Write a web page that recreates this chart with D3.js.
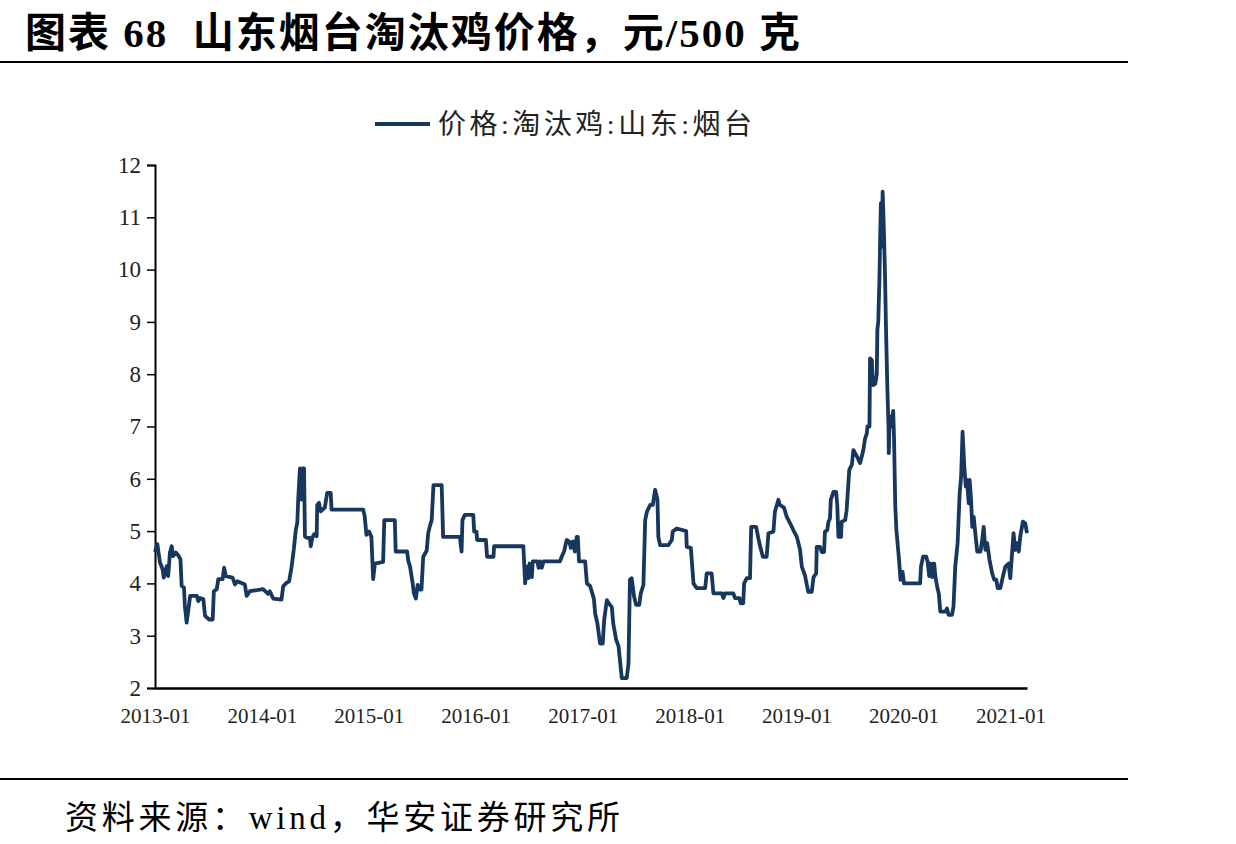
<!DOCTYPE html>
<html><head><meta charset="utf-8">
<script src="https://cdn.jsdelivr.net/npm/d3@7"></script>
<style>body{margin:0;background:#fff}svg{display:block}</style>
</head><body>
<svg id="c" width="1236" height="844"></svg>
<script>
const titleText = "图表 68  山东烟台淘汰鸡价格，元/500 克";
const legendLabel = "价格:淘汰鸡:山东:烟台";
const sourceText = "资料来源：wind，华安证券研究所";
const xTickLabels = ["2013-01","2014-01","2015-01","2016-01","2017-01","2018-01","2019-01","2020-01","2021-01"];
const yTicks = [2,3,4,5,6,7,8,9,10,11,12];

const dates = [
"2013-01-01","2013-01-09","2013-01-18","2013-01-27","2013-01-31","2013-02-10","2013-02-15","2013-02-21","2013-02-27","2013-03-04",
"2013-03-13","2013-03-21","2013-03-29","2013-04-02","2013-04-10","2013-04-13","2013-04-19","2013-04-25","2013-05-01","2013-05-24",
"2013-05-29","2013-06-04","2013-06-15","2013-06-21","2013-07-05","2013-07-17","2013-07-21","2013-07-31","2013-08-05","2013-08-20",
"2013-08-25","2013-08-31","2013-09-23","2013-10-01","2013-10-09","2013-11-04","2013-11-10","2013-11-21","2014-01-05","2014-01-22",
"2014-01-28","2014-02-09","2014-03-09","2014-03-15","2014-03-26","2014-04-04","2014-04-12","2014-04-20","2014-04-27","2014-05-02",
"2014-05-05","2014-05-11","2014-05-17","2014-05-20","2014-05-25","2014-05-28","2014-06-03","2014-06-14","2014-06-17","2014-06-22",
"2014-06-28","2014-07-07","2014-07-09","2014-07-15","2014-07-21","2014-08-04","2014-08-12","2014-08-24","2014-08-27","2014-12-13",
"2014-12-18","2014-12-24","2015-01-02","2015-01-10","2015-01-16","2015-01-22","2015-02-19","2015-02-23","2015-03-31","2015-04-03",
"2015-05-12","2015-05-16","2015-05-22","2015-05-31","2015-06-04","2015-06-11","2015-06-17","2015-06-25","2015-06-30","2015-07-06",
"2015-07-18","2015-07-23","2015-07-29","2015-08-04","2015-08-10","2015-09-07","2015-09-12","2015-11-08","2015-11-14","2015-11-17",
"2015-11-25","2015-12-24","2015-12-27","2016-01-04","2016-01-06","2016-02-05","2016-02-09","2016-03-02","2016-03-04","2016-06-12",
"2016-06-18","2016-06-24","2016-06-29","2016-07-03","2016-07-11","2016-07-14","2016-07-30","2016-08-03","2016-08-08","2016-08-14",
"2016-08-20","2016-10-15","2016-10-21","2016-10-29","2016-11-07","2016-11-16","2016-11-21","2016-11-28","2016-12-05","2016-12-11",
"2016-12-15","2016-12-19","2017-01-09","2017-01-15","2017-01-26","2017-02-04","2017-02-08","2017-02-12","2017-02-20","2017-03-01",
"2017-03-10","2017-03-15","2017-03-24","2017-04-02","2017-04-10","2017-04-15","2017-04-25","2017-05-03","2017-05-09","2017-05-14",
"2017-05-31","2017-06-06","2017-06-11","2017-06-17","2017-06-25","2017-07-02","2017-07-13","2017-07-18","2017-07-27","2017-08-02",
"2017-08-08","2017-08-19","2017-08-28","2017-09-05","2017-09-13","2017-09-16","2017-09-22","2017-10-20","2017-11-01","2017-11-04",
"2017-11-18","2017-12-20","2017-12-22","2018-01-05","2018-01-08","2018-01-14","2018-01-25","2018-02-23","2018-02-28","2018-03-17",
"2018-03-23","2018-04-21","2018-04-26","2018-05-02","2018-05-30","2018-06-05","2018-06-20","2018-06-24","2018-07-03","2018-07-06",
"2018-07-15","2018-07-26","2018-07-30","2018-08-16","2018-08-24","2018-08-30","2018-09-08","2018-09-21","2018-09-27","2018-10-14",
"2018-10-19","2018-10-31","2018-11-05","2018-11-19","2018-11-28","2018-12-10","2018-12-21","2019-01-02","2019-01-13","2019-01-19",
"2019-01-30","2019-02-05","2019-02-10","2019-02-22","2019-02-28","2019-03-09","2019-03-11","2019-03-22","2019-03-28","2019-04-05",
"2019-04-08","2019-04-16","2019-04-20","2019-04-25","2019-04-28","2019-05-07","2019-05-16","2019-05-20","2019-05-24","2019-06-02",
"2019-06-04","2019-06-16","2019-06-21","2019-06-30","2019-07-09","2019-07-14","2019-07-20","2019-07-26","2019-08-06","2019-08-12",
"2019-08-17","2019-08-23","2019-08-29","2019-08-31","2019-09-07","2019-09-09","2019-09-15","2019-09-19","2019-09-27","2019-10-02",
"2019-10-04","2019-10-07","2019-10-11","2019-10-13","2019-10-16","2019-10-19","2019-10-22","2019-10-26","2019-10-30","2019-11-02",
"2019-11-07","2019-11-11","2019-11-12","2019-11-15","2019-11-21","2019-11-27","2019-11-30","2019-12-04","2019-12-08","2019-12-17",
"2019-12-22","2019-12-29","2020-01-03","2020-02-27","2020-03-01","2020-03-08","2020-03-19","2020-03-24","2020-03-29","2020-04-02",
"2020-04-08","2020-04-11","2020-04-15","2020-04-19","2020-04-25","2020-05-01","2020-05-06","2020-05-23","2020-05-29","2020-06-03",
"2020-06-15","2020-06-20","2020-06-26","2020-07-04","2020-07-11","2020-07-16","2020-07-21","2020-07-27","2020-08-01","2020-08-05",
"2020-08-11","2020-08-14","2020-08-19","2020-08-23","2020-08-28","2020-09-03","2020-09-09","2020-09-20","2020-09-26","2020-10-01",
"2020-10-07","2020-10-13","2020-10-21","2020-10-30","2020-11-06","2020-11-13","2020-11-18","2020-11-27","2020-12-06","2020-12-14",
"2020-12-25","2020-12-31","2021-01-06","2021-01-11","2021-01-17","2021-01-23","2021-01-29","2021-02-03","2021-02-12","2021-02-20",
"2021-02-26"];

const prices = [
4.6,4.75,4.4,4.27,4.11,4.33,4.14,4.59,4.71,4.52,
4.59,4.54,4.46,3.95,3.92,3.57,3.25,3.5,3.76,3.76,
3.66,3.72,3.7,3.38,3.31,3.31,3.85,3.89,4.08,4.08,
4.3,4.14,4.11,3.98,4.04,3.98,3.76,3.85,3.89,3.8,
3.85,3.71,3.69,3.95,4.01,4.04,4.3,4.65,5.03,5.16,
5.6,6.2,5.6,6.2,6.2,4.9,4.87,4.87,4.71,4.87,
4.94,4.9,5.5,5.54,5.38,5.45,5.73,5.73,5.41,5.41,
5.29,4.93,4.99,4.89,4.08,4.38,4.41,5.21,5.21,4.61,
4.61,4.43,4.32,4.0,3.81,3.71,3.97,3.88,3.88,4.51,
4.63,4.96,5.1,5.21,5.88,5.88,4.89,4.89,4.61,5.21,
5.31,5.31,4.99,4.99,4.83,4.83,4.51,4.51,4.71,4.71,
4.0,4.32,4.1,4.38,4.12,4.42,4.42,4.3,4.42,4.3,
4.42,4.42,4.51,4.61,4.83,4.8,4.68,4.8,4.61,4.89,
4.89,4.42,4.42,4.0,3.95,3.78,3.7,3.43,3.23,2.85,
2.85,3.3,3.68,3.6,3.55,3.23,2.92,2.8,2.47,2.19,
2.19,2.47,4.07,4.1,3.75,3.59,3.59,3.81,3.97,5.21,
5.37,5.5,5.5,5.79,5.6,4.89,4.73,4.73,4.83,4.99,
5.05,5.0,4.7,4.68,4.45,4.0,3.91,3.91,4.19,4.19,
3.81,3.81,3.72,3.81,3.81,3.72,3.72,3.62,3.62,4.0,
4.1,4.1,5.08,5.08,4.85,4.7,4.51,4.51,4.96,4.99,
5.37,5.6,5.5,5.45,5.28,5.15,5.02,4.89,4.64,4.32,
4.15,3.97,3.84,3.84,4.12,4.19,4.7,4.7,4.6,4.6,
4.99,5.02,5.18,5.24,5.6,5.75,5.75,5.5,4.89,4.89,
5.18,5.21,5.4,6.17,6.27,6.55,6.49,6.43,6.3,6.43,
6.55,6.77,6.87,7.0,7.0,8.3,8.27,7.79,7.82,8.0,
8.85,9.0,9.8,10.44,11.27,10.44,11.49,10.8,9.93,9.0,
7.76,7.0,6.49,7.2,7.0,7.3,6.75,5.5,5.02,4.45,
4.07,4.22,4.0,4.0,4.32,4.51,4.51,4.4,4.14,4.38,
4.12,4.38,4.38,4.14,3.94,3.8,3.46,3.46,3.52,3.4,
3.4,3.56,4.32,4.77,5.72,6.04,6.9,6.23,5.85,5.98,
5.53,5.98,5.6,5.08,5.27,4.93,4.61,4.61,4.83,5.08,
4.64,4.77,4.45,4.19,4.07,4.07,3.91,3.91,4.14,4.32,
4.38,4.1,4.58,4.96,4.64,4.77,4.61,4.9,5.18,5.15,
4.96];

const parse = d3.utcParse("%Y-%m-%d");
const series = dates.map((d,i)=>({date:parse(d), value:prices[i]}));

const svg = d3.select("#c");
const serif = "'Liberation Serif','Times New Roman','Noto Sans CJK SC',serif";
const cjk = "'Liberation Serif','Noto Sans CJK SC',sans-serif";
const lineColor = "#17375e";

// Title
svg.append("text").attr("x",25).attr("y",47)
  .attr("font-family",cjk).attr("font-weight","bold").attr("font-size",41)
  .attr("textLength",775).attr("lengthAdjust","spacing")
  .attr("fill","#000").attr("xml:space","preserve").text(titleText);
svg.append("line").attr("x1",0).attr("x2",1128).attr("y1",62).attr("y2",62)
  .attr("stroke","#000").attr("stroke-width",2);

// Source
svg.append("line").attr("x1",0).attr("x2",1128).attr("y1",779).attr("y2",779)
  .attr("stroke","#000").attr("stroke-width",2);
svg.append("text").attr("x",65).attr("y",829)
  .attr("font-family",cjk).attr("font-size",33)
  .attr("textLength",555).attr("lengthAdjust","spacing")
  .attr("fill","#000").text(sourceText);

// Scales
const x = d3.scaleUtc()
  .domain([parse("2013-01-01"), parse("2021-02-26")])
  .range([155, 1027]);
const y = d3.scaleLinear().domain([2,12]).range([688,165]);

// Y axis
const yAxis = d3.axisLeft(y).tickValues(yTicks).tickSize(8).tickPadding(6).tickFormat(d3.format("d"));
const gy = svg.append("g").attr("transform","translate(155,0)").call(yAxis);
gy.select(".domain").attr("stroke","#000").attr("stroke-width",2);
gy.selectAll(".tick line").attr("stroke","#000").attr("stroke-width",1.5);
gy.selectAll(".tick text").attr("font-family",serif).attr("font-size",23).attr("fill","#222");

// X axis
const xAxis = d3.axisBottom(x)
  .tickValues(xTickLabels.map(s=>parse(s+"-01")))
  .tickSize(0).tickPadding(20)
  .tickFormat((d,i)=>xTickLabels[i]);
const gx = svg.append("g").attr("transform","translate(0,688)").call(xAxis);
gx.select(".domain").attr("stroke","#000").attr("stroke-width",2.5);
gx.selectAll(".tick text").attr("font-family",serif).attr("font-size",21).attr("fill","#222");

// Line
const line = d3.line().x(d=>x(d.date)).y(d=>y(d.value));
svg.append("path").datum(series).attr("d",line)
  .attr("fill","none").attr("stroke",lineColor).attr("stroke-width",3.8)
  .attr("stroke-linejoin","round");

// Legend
svg.append("line").attr("x1",375).attr("x2",430).attr("y1",124).attr("y2",124)
  .attr("stroke",lineColor).attr("stroke-width",4);
svg.append("text").attr("x",438).attr("y",134)
  .attr("font-family",cjk).attr("font-size",28)
  .attr("textLength",314).attr("lengthAdjust","spacing")
  .attr("fill","#222").text(legendLabel);
</script>
</body></html>
